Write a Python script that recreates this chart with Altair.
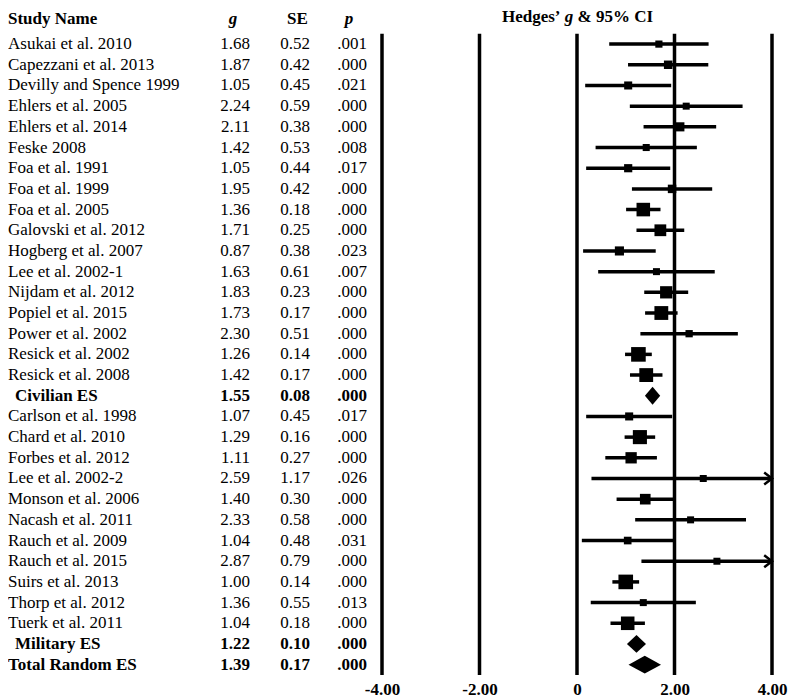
import altair as alt
import pandas as pd

# ---------------- data ----------------
names = [
    "Asukai et al. 2010", "Capezzani et al. 2013", "Devilly and Spence 1999",
    "Ehlers et al. 2005", "Ehlers et al. 2014", "Feske 2008", "Foa et al. 1991",
    "Foa et al. 1999", "Foa et al. 2005", "Galovski et al. 2012",
    "Hogberg et al. 2007", "Lee et al. 2002-1", "Nijdam et al. 2012",
    "Popiel et al. 2015", "Power et al. 2002", "Resick et al. 2002",
    "Resick et al. 2008", "Civilian ES", "Carlson et al. 1998",
    "Chard et al. 2010", "Forbes et al. 2012", "Lee et al. 2002-2",
    "Monson et al. 2006", "Nacash et al. 2011", "Rauch et al. 2009",
    "Rauch et al. 2015", "Suirs et al. 2013", "Thorp et al. 2012",
    "Tuerk et al. 2011", "Military ES", "Total Random ES",
]
g_vals = [1.68, 1.87, 1.05, 2.24, 2.11, 1.42, 1.05, 1.95, 1.36, 1.71, 0.87,
          1.63, 1.83, 1.73, 2.30, 1.26, 1.42, 1.55, 1.07, 1.29, 1.11, 2.59,
          1.40, 2.33, 1.04, 2.87, 1.00, 1.36, 1.04, 1.22, 1.39]
se_vals = [0.52, 0.42, 0.45, 0.59, 0.38, 0.53, 0.44, 0.42, 0.18, 0.25, 0.38,
           0.61, 0.23, 0.17, 0.51, 0.14, 0.17, 0.08, 0.45, 0.16, 0.27, 1.17,
           0.30, 0.58, 0.48, 0.79, 0.14, 0.55, 0.18, 0.10, 0.17]
p_vals = [".001", ".000", ".021", ".000", ".000", ".008", ".017", ".000",
          ".000", ".000", ".023", ".007", ".000", ".000", ".000", ".000",
          ".000", ".000", ".017", ".000", ".000", ".026", ".000", ".000",
          ".031", ".000", ".000", ".013", ".000", ".000", ".000"]
summary_names = ["Civilian ES", "Military ES", "Total Random ES"]
indented = ["Civilian ES", "Military ES"]
axis_ticks = [-4, -2, 0, 2, 4]
headers = ["Study Name", "g", "SE", "p"]

FONT = "Liberation Serif"
FS = 17
Z = 1.96
XMAX = 4

df = pd.DataFrame({"name": names, "g": g_vals, "se": se_vals, "p": p_vals})
df["row"] = range(len(df))
df["summary"] = df["name"].isin(summary_names)
df["indent"] = df["name"].isin(indented)

st = df[~df["summary"]].copy()
st["lo"] = st["g"] - Z * st["se"]
st["hi"] = st["g"] + Z * st["se"]
st["hic"] = st["hi"].clip(upper=XMAX)
st["sz"] = (17.0 / (st["se"] ** 2 + 0.06)).clip(lower=49)
ar = st[st["hi"] > XMAX].copy()
ar["xa"] = XMAX

sm = df[df["summary"]]
drows = []
for _, r in sm.iterrows():
    lo, hi = r["g"] - Z * r["se"], r["g"] + Z * r["se"]
    drows.append({"name": r["name"], "x": lo, "y1": r["row"], "y2": r["row"]})
    drows.append({"name": r["name"], "x": r["g"], "y1": r["row"] - 0.43, "y2": r["row"] + 0.43})
    drows.append({"name": r["name"], "x": hi, "y1": r["row"], "y2": r["row"]})
dd = pd.DataFrame(drows)

# ---------------- scales ----------------
yscale = alt.Scale(domain=[-1.6, 30.5], reverse=True, nice=False, zero=False)
Y = alt.Y("row:Q", scale=yscale, axis=None)
HDR_Y = alt.YDatum(-1, scale=yscale, axis=None, type="quantitative")

xscale = alt.Scale(domain=[-4, 4], nice=False, zero=False)
xaxis = alt.Axis(values=axis_ticks,
                 labelExpr="datum.value == 0 ? '0' : (datum.value < 0 ? '-' + format(-datum.value, '.2f') : format(datum.value, '.2f'))",
                 domain=False, ticks=False, grid=False, title=None,
                 labelFont=FONT, labelFontSize=FS, labelFontWeight="bold",
                 labelColor="black", labelPadding=6, labelFlush=False,
                 labelOverlap=False)


def X(field):
    return alt.X(f"{field}:Q", scale=xscale, axis=xaxis)


def text_mark(align, weight="normal", style="normal", dy=0, dx=0):
    return dict(align=align, baseline="middle", font=FONT, fontSize=FS,
                fontWeight=weight, fontStyle=style, color="black", dy=dy, dx=dx)


# ---------------- left table ----------------
left_layers = []
name_sets = [(df[~df["summary"]], "normal", 0),
             (df[df["summary"] & ~df["indent"]], "bold", 0),
             (df[df["indent"]], "bold", 7)]
for subset, weight, dx in name_sets:
    left_layers.append(alt.Chart(subset).mark_text(**text_mark("left", weight, dx=dx)).encode(
        x=alt.value(0), y=Y, text="name:N"))

for subset, weight in [(df[~df["summary"]], "normal"), (df[df["summary"]], "bold")]:
    base = alt.Chart(subset)
    left_layers.append(base.mark_text(**text_mark("right", weight)).encode(
        x=alt.value(242), y=Y, text=alt.Text("g:Q", format=".2f")))
    left_layers.append(base.mark_text(**text_mark("right", weight)).encode(
        x=alt.value(302), y=Y, text=alt.Text("se:Q", format=".2f")))
    left_layers.append(base.mark_text(**text_mark("right", weight)).encode(
        x=alt.value(359), y=Y, text="p:N"))

hdr_specs = [(headers[0], "left", "normal", 0), (headers[1], "center", "italic", 225),
             (headers[2], "center", "normal", 289.5), (headers[3], "center", "italic", 341)]
for label, align, style, xpos in hdr_specs:
    left_layers.append(
        alt.Chart(pd.DataFrame({"h": [label]})).mark_text(
            **text_mark(align, "bold", style, dy=-4)).encode(
            x=alt.value(xpos), y=HDR_Y, text="h:N"))

left = alt.layer(*left_layers).properties(width=374, height=664)

# ---------------- forest plot ----------------
vlines = alt.Chart(pd.DataFrame({"x": axis_ticks})).mark_rule(
    strokeWidth=3.5, color="black").encode(
    x=X("x"), y=alt.YDatum(-0.5, scale=yscale, axis=None, type="quantitative"),
    y2=alt.Y2Datum(30.5))

ci = alt.Chart(st).mark_rule(strokeWidth=3.5, color="black").encode(
    x=X("lo"), x2="hic:Q", y=Y)

squares = alt.Chart(st).mark_square(filled=True, opacity=1, color="black").encode(
    x=X("g"), y=Y, size=alt.Size("sz:Q", scale=None))

arrows = alt.Chart(ar).mark_point(
    shape="M -1.3 -1 L 0 0 L -1.3 1", filled=False, opacity=1, color="black",
    strokeWidth=2.5, size=144).encode(x=X("xa"), y=Y)

diamonds = alt.Chart(dd).mark_area(orient="vertical", color="black", opacity=1).encode(
    x=X("x"), y=alt.Y("y1:Q", scale=yscale, axis=None), y2="y2:Q", detail="name:N")

title_parts = [("Hedges\u2019", "right", "normal", 178.5), ("g", "center", "italic", 187),
               ("& 95% CI", "left", "normal", 195.5)]
title_layers = []
for label, align, style, xpos in title_parts:
    title_layers.append(
        alt.Chart(pd.DataFrame({"t": [label]})).mark_text(
            **text_mark(align, "bold", style, dy=-6)).encode(
            x=alt.value(xpos), y=HDR_Y, text="t:N"))

right = alt.layer(vlines, ci, diamonds, squares, arrows, *title_layers).properties(
    width=390, height=664)

chart = alt.hconcat(left, right, spacing=0, bounds="flush").properties(
    padding={"left": 0, "top": 0, "right": 5, "bottom": 5},
    background="white",
).configure_view(stroke=None)

chart.save("out.html", embed_options={"renderer": "svg", "actions": False})
